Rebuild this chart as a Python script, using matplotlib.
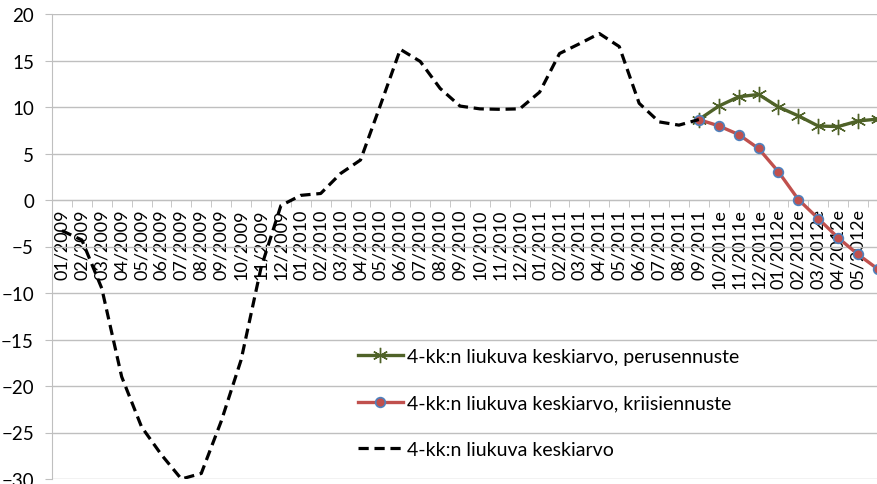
import numpy as np
import matplotlib
matplotlib.use("Agg")
import matplotlib.pyplot as plt

months = ["01/2009", "02/2009", "03/2009", "04/2009", "05/2009", "06/2009",
          "07/2009", "08/2009", "09/2009", "10/2009", "11/2009", "12/2009",
          "01/2010", "02/2010", "03/2010", "04/2010", "05/2010", "06/2010",
          "07/2010", "08/2010", "09/2010", "10/2010", "11/2010", "12/2010",
          "01/2011", "02/2011", "03/2011", "04/2011", "05/2011", "06/2011",
          "07/2011", "08/2011", "09/2011", "10/2011e", "11/2011e", "12/2011e",
          "01/2012e", "02/2012e", "03/2012e", "04/2012e", "05/2012e", "06/2012e"]

# 4-kk liukuva keskiarvo, toteutunut (01/2009 - 09/2011)
actual = [-3.3, -4.3, -9.5, -19.0, -24.4, -27.4, -30.0, -29.4, -23.8, -17.2,
          -7.3, -0.6, 0.5, 0.7, 2.85, 4.3, 10.2, 16.2, 14.9, 12.0, 10.1, 9.8,
          9.75, 9.8, 11.6, 15.75, 16.8, 17.9, 16.5, 10.4, 8.4, 8.05, 8.65]

# ennusteet (09/2011 - 06/2012e)
base = [8.65, 10.1, 11.1, 11.35, 10.0, 9.05, 7.95, 7.9, 8.5, 8.7]
crisis = [8.65, 7.97, 7.04, 5.54, 3.03, 0.05, -2.0, -4.07, -5.86, -7.44]

plt.rcParams['font.family'] = ['Lato', 'DejaVu Sans']

fig = plt.figure(figsize=(8.77, 4.85), dpi=100)
ax = fig.add_axes([52 / 877, 5 / 485, 825 / 877, 465 / 485])

x = np.arange(len(months))
n_act = len(actual)
x_fc = x[n_act - 1:n_act - 1 + len(base)]

grid_col = '#BFBFBF'

l1, = ax.plot(x_fc, base, color='#4F6228', linewidth=2.4, marker=(6, 2, 0),
              markersize=11, markeredgecolor='#4F6228', markeredgewidth=1.0,
              label='4-kk:n liukuva keskiarvo, perusennuste', zorder=3)
l2, = ax.plot(x_fc, crisis, color='#C0504D', linewidth=2.4, marker='o',
              markersize=7, markerfacecolor='#C0504D', markeredgecolor='#4F81BD',
              markeredgewidth=1.2, label='4-kk:n liukuva keskiarvo, kriisiennuste',
              zorder=4)
l3, = ax.plot(x[:n_act], actual, color='black', linewidth=2.3,
              linestyle=(0, (3.2, 1.8)), label='4-kk:n liukuva keskiarvo', zorder=5)

for s in ['top', 'right']:
    ax.spines[s].set_visible(False)
ax.spines['left'].set_color(grid_col)
ax.spines['bottom'].set_color(grid_col)
ax.spines['bottom'].set_position(('data', 0))

ax.set_xticks(x)
ax.set_xticklabels(months, rotation=90, fontsize=13)
ax.set_xticks(np.arange(-0.5, len(months), 1.0), minor=True)
ax.tick_params(axis='x', which='major', length=0, pad=6)
ax.tick_params(axis='x', which='minor', length=5, color=grid_col, direction='out')

ax.set_yticks(range(-30, 21, 5))
ax.tick_params(axis='y', length=5, color=grid_col, labelsize=13.5, pad=8)
ax.yaxis.grid(True, color=grid_col, linewidth=1.0)
ax.set_axisbelow(True)

# limits last: set_xticks would widen them
ax.set_ylim(-30, 20)
ax.set_xlim(-0.5, 40.95)

fig.legend(handles=[l1, l2, l3], loc='upper left',
           bbox_to_anchor=(358 / 877, 1 - 349 / 485), frameon=False,
           fontsize=14, labelspacing=1.52, handlelength=2.3,
           handletextpad=0.2, borderaxespad=0, borderpad=0)

fig.savefig('out.png', dpi=100)
